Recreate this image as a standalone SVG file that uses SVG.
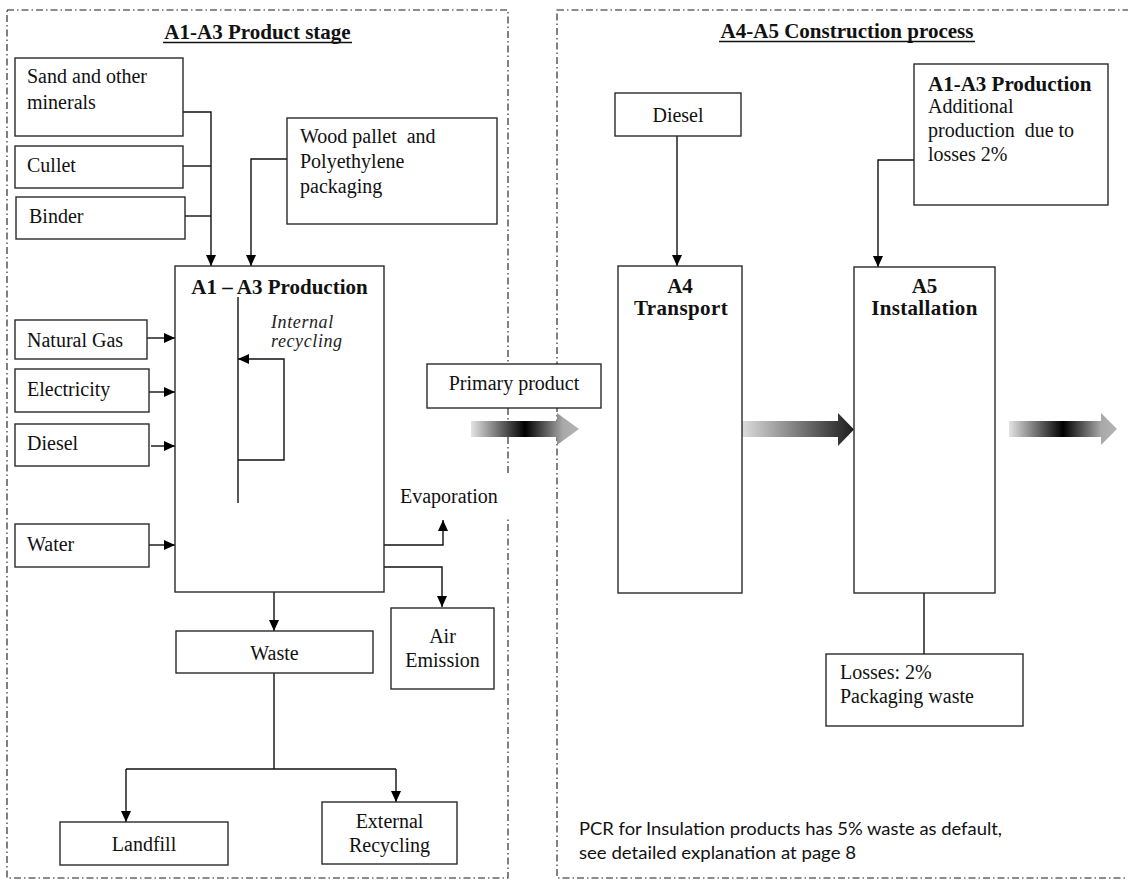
<svg xmlns="http://www.w3.org/2000/svg" width="1128" height="880" viewBox="0 0 1128 880">
<style>
.frame{fill:none;stroke:#1a1a1a;stroke-width:1.1;stroke-dasharray:7 3 1.5 3}
.box{fill:#fff;stroke:#2a2a2a;stroke-width:1.4}
.ln{fill:none;stroke:#111;stroke-width:1.4}
.t{font-family:"Liberation Serif","Times New Roman",serif;font-size:20px;fill:#111}
.b{font-family:"Liberation Serif","Times New Roman",serif;font-size:21px;font-weight:bold;fill:#111}
.i{font-family:"Liberation Serif","Times New Roman",serif;font-size:18px;font-style:italic;fill:#222;letter-spacing:0.6px}
.s{font-family:Lato,"Open Sans",sans-serif;font-size:18px;fill:#111}
.m{text-anchor:middle}
</style>
<defs>
<marker id="ah" markerUnits="userSpaceOnUse" markerWidth="12" markerHeight="10" refX="11" refY="5" orient="auto">
<path d="M0,0 L11,5 L0,10 Z" fill="#000"/>
</marker>
<linearGradient id="g1" x1="0" y1="0" x2="1" y2="0">
<stop offset="0" stop-color="#e4e4e4"/>
<stop offset="0.5" stop-color="#000"/>
<stop offset="0.85" stop-color="#a8a8a8"/>
<stop offset="1" stop-color="#b4b4b4"/>
</linearGradient>
<linearGradient id="g2" x1="0" y1="0" x2="1" y2="0">
<stop offset="0" stop-color="#dcdcdc"/>
<stop offset="0.85" stop-color="#383838"/>
<stop offset="1" stop-color="#1e1e1e"/>
</linearGradient>
</defs>

<g id="frames">
<rect class="frame" x="7" y="10" width="501" height="868"/>
<rect class="frame" x="557" y="10" width="580" height="868"/>
</g>

<g id="titles">
<text class="b m" x="257.5" y="39">A1-A3 Product stage</text>
<line x1="163" y1="42.5" x2="352" y2="42.5" stroke="#111" stroke-width="1.5"/>
<text class="b m" x="847" y="38">A4-A5 Construction process</text>
<line x1="719" y1="41.5" x2="975" y2="41.5" stroke="#111" stroke-width="1.5"/>
</g>

<g id="evap-mask"><rect x="396" y="473" width="120" height="45" fill="#fff"/></g>

<g id="connectors">
<path class="ln" d="M183,112 H211 V266" marker-end="url(#ah)"/>
<path class="ln" d="M183,166 H211"/>
<path class="ln" d="M185,216 H211"/>
<path class="ln" d="M287,159 H251 V266" marker-end="url(#ah)"/>
<path class="ln" d="M147,338 H175" marker-end="url(#ah)"/>
<path class="ln" d="M149,392 H175" marker-end="url(#ah)"/>
<path class="ln" d="M151,446 H175" marker-end="url(#ah)"/>
<path class="ln" d="M147,545 H175" marker-end="url(#ah)"/>
<path class="ln" d="M175,545 H384" stroke-dasharray="5 4"/>
<path class="ln" d="M384,545 H443 V520" marker-end="url(#ah)"/>
<path class="ln" d="M384,567 H442 V607" marker-end="url(#ah)"/>
<path class="ln" d="M274,592 V631" marker-end="url(#ah)"/>
<path class="ln" d="M274,673 V769 M126,769 H396"/>
<path class="ln" d="M126,769 V822" marker-end="url(#ah)"/>
<path class="ln" d="M396,769 V802" marker-end="url(#ah)"/>
<path class="ln" d="M677,136 V266" marker-end="url(#ah)"/>
<path class="ln" d="M914,160 H878 V267" marker-end="url(#ah)"/>
<path class="ln" d="M924,593 V654"/>
</g>

<g id="sand"><rect class="box" x="15" y="58" width="168" height="78"/>
<text class="t" x="27" y="83">Sand and other</text><text class="t" x="27" y="109">minerals</text></g>
<g id="cullet"><rect class="box" x="15" y="146" width="168" height="42"/><text class="t" x="27" y="172">Cullet</text></g>
<g id="binder"><rect class="box" x="16" y="197" width="169" height="42"/><text class="t" x="29" y="223">Binder</text></g>
<g id="wood"><rect class="box" x="287" y="118" width="210" height="106"/>
<text class="t" x="300" y="143">Wood pallet&#160; and</text><text class="t" x="300" y="168">Polyethylene</text><text class="t" x="300" y="193">packaging</text></g>

<g id="production">
<rect class="box" x="175" y="266" width="209" height="326"/>
<text class="b m" x="279.5" y="294">A1 – A3 Production</text>
<line x1="238" y1="297" x2="238" y2="503" stroke="#111" stroke-width="1.4"/>
<text class="i" x="271" y="328">Internal</text>
<text class="i" x="271" y="347">recycling</text>
<path class="ln" d="M238,460 H284 V359 H238" marker-end="url(#ah)"/>
</g>

<g id="natgas"><rect class="box" x="15" y="320" width="132" height="39"/><text class="t" x="27" y="347">Natural Gas</text></g>
<g id="electricity"><rect class="box" x="15" y="369" width="134" height="43"/><text class="t" x="27" y="396">Electricity</text></g>
<g id="diesel1"><rect class="box" x="15" y="424" width="134" height="42"/><text class="t" x="27" y="450">Diesel</text></g>
<g id="water"><rect class="box" x="15" y="524" width="134" height="43"/><text class="t" x="27" y="551">Water</text></g>

<g id="evaporation"><text class="t" x="400" y="503">Evaporation</text></g>
<g id="air"><rect class="box" x="391" y="608" width="103" height="81"/>
<text class="t m" x="442.5" y="643">Air</text><text class="t m" x="442.5" y="667">Emission</text></g>
<g id="waste"><rect class="box" x="176" y="631" width="197" height="42"/><text class="t m" x="274.5" y="660">Waste</text></g>
<g id="landfill"><rect class="box" x="60" y="822" width="168" height="43"/><text class="t m" x="144" y="851">Landfill</text></g>
<g id="extrec"><rect class="box" x="322" y="802" width="135" height="62"/>
<text class="t m" x="389.5" y="828">External</text><text class="t m" x="389.5" y="852">Recycling</text></g>

<g id="primary"><rect class="box" x="427" y="364" width="174" height="44"/><text class="t m" x="514" y="390">Primary product</text></g>

<g id="flow-arrows">
<path d="M471,421 H557 V413 L579,429 L557,445 V437 H471 Z" fill="url(#g1)"/>
<path d="M742,421 H838 V413 L854,429.5 L838,446 V437 H742 Z" fill="url(#g2)"/>
<path d="M1009,421 H1101 V413 L1117,429 L1101,445 V437 H1009 Z" fill="url(#g1)"/>
</g>

<g id="diesel2"><rect class="box" x="615" y="93" width="126" height="43"/><text class="t m" x="678" y="122">Diesel</text></g>
<g id="a4"><rect class="box" x="618" y="266" width="124" height="327"/>
<text class="b m" x="680" y="293">A4</text><text class="b m" x="681" y="315" letter-spacing="0.4">Transport</text></g>
<g id="prod2"><rect class="box" x="914" y="64" width="194" height="141"/>
<text class="b" x="928" y="91">A1-A3 Production</text>
<text class="t" x="928" y="113">Additional</text>
<text class="t" x="928" y="137">production&#160; due to</text>
<text class="t" x="928" y="161">losses 2%</text></g>
<g id="a5"><rect class="box" x="854" y="267" width="141" height="326"/>
<text class="b m" x="924.5" y="293">A5</text><text class="b m" x="924.5" y="315" letter-spacing="0.3">Installation</text></g>
<g id="losses"><rect class="box" x="826" y="654" width="197" height="72"/>
<text class="t" x="840" y="679">Losses: 2%</text><text class="t" x="840" y="703">Packaging waste</text></g>

<g id="note">
<text class="s" x="579" y="835" textLength="423" lengthAdjust="spacingAndGlyphs">PCR for Insulation products has 5% waste as default,</text>
<text class="s" x="579" y="859" textLength="277" lengthAdjust="spacingAndGlyphs">see detailed explanation at page 8</text>
</g>
</svg>
